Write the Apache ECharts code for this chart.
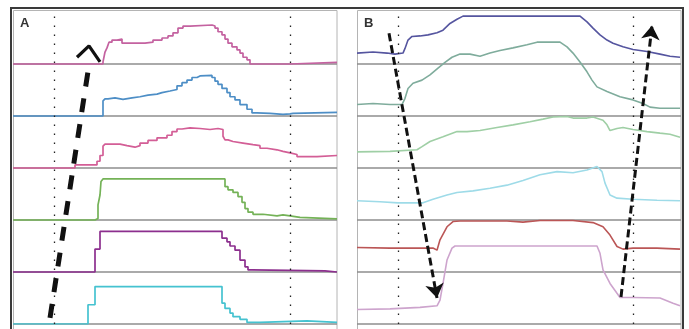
<!DOCTYPE html>
<html>
<head>
<meta charset="utf-8">
<script src="https://cdn.jsdelivr.net/npm/echarts@6/dist/echarts.min.js"></script>
<style>
html,body{margin:0;padding:0;background:#fff;}
#chart{width:689px;height:329px;}
</style>
</head>
<body>
<div id="chart"></div>
<script>
// ---------- data ----------
// Panel A: step traces, [time, level within own row (0..1)] ; level holds from that time onward
const rowA1 = [[0,0],[90,0.04],[92,0.23],[94,0.31],[96,0.42],[99,0.46],[104,0.48],[109,0.40],[132,0.42],[140,0.46],[149,0.50],[155,0.54],[160,0.60],[165,0.69],[170,0.73],[177,0.75],[199,0.73],[202,0.69],[205,0.62],[209,0.56],[212,0.48],[215,0.40],[219,0.33],[224,0.27],[227,0.21],[230,0.13],[234,0.08],[237,0],[277,0.03],[324,0.03]];
const rowA2 = [[0,0],[90,0.29],[92,0.33],[95,0.35],[102,0.32],[110,0.35],[119,0.37],[127,0.40],[135,0.42],[144,0.45],[149,0.48],[157,0.51],[164,0.58],[169,0.64],[174,0.69],[179,0.74],[184,0.77],[187,0.78],[199,0.74],[202,0.67],[205,0.61],[209,0.53],[214,0.45],[217,0.37],[222,0.31],[227,0.22],[234,0.13],[239,0.06],[244,0.05],[257,0.03],[270,0.04],[277,0.05],[280,0.07],[324,0.07]];
const rowA3 = [[0,0],[62,0.06],[84,0.13],[87,0.24],[90,0.42],[92,0.46],[107,0.43],[114,0.40],[122,0.43],[127,0.48],[135,0.53],[144,0.58],[154,0.63],[159,0.70],[164,0.75],[169,0.77],[177,0.76],[187,0.74],[197,0.76],[205,0.74],[210,0.61],[212,0.54],[215,0.51],[220,0.48],[230,0.45],[240,0.43],[247,0.38],[254,0.35],[264,0.32],[270,0.29],[277,0.26],[284,0.22],[304,0.24],[324,0.24]];
const rowA4 = [[0,0],[82,0.03],[85,0.29],[87,0.48],[88,0.74],[90,0.79],[212,0.64],[215,0.58],[220,0.53],[225,0.45],[229,0.34],[232,0.22],[235,0.15],[240,0.11],[250,0.08],[264,0.10],[270,0.08],[277,0.05],[287,0.02],[324,0.02]];
const rowA5 = [[0,0],[82,0.44],[87,0.78],[209,0.65],[214,0.58],[217,0.50],[222,0.42],[227,0.23],[232,0.10],[235,0.04],[239,0.02],[312,0],[324,0]];
const rowA6 = [[0,0],[75,0.37],[82,0.72],[209,0.40],[212,0.30],[217,0.21],[220,0.14],[227,0.09],[234,0.03],[247,0.06],[294,0.03],[324,0.03]];

// Panel B: traces, [time, value on the shared row scale 0..6]
const rowB1 = [[0,5.21],[16,5.23],[30,5.21],[38,5.19],[46,5.21],[48,5.30],[51,5.46],[55,5.53],[63,5.54],[71,5.56],[80,5.60],[86,5.65],[93,5.78],[100,5.86],[106,5.92],[223,5.92],[230,5.81],[236,5.69],[243,5.56],[250,5.46],[256,5.40],[266,5.33],[276,5.28],[290,5.24],[303,5.19],[313,5.15],[323,5.13]];
const rowB2 = [[0,4.22],[16,4.24],[33,4.22],[45,4.22],[48,4.34],[51,4.53],[56,4.63],[65,4.69],[73,4.79],[81,4.92],[88,5.03],[95,5.13],[103,5.19],[113,5.19],[123,5.15],[133,5.21],[143,5.26],[156,5.31],[170,5.37],[180,5.42],[203,5.42],[210,5.33],[216,5.21],[223,5.04],[230,4.85],[235,4.69],[240,4.56],[250,4.47],[263,4.37],[276,4.31],[286,4.24],[293,4.17],[303,4.15],[323,4.15]];
const rowB3 = [[0,3.31],[33,3.32],[60,3.35],[65,3.41],[73,3.51],[86,3.60],[100,3.70],[110,3.70],[123,3.72],[140,3.78],[156,3.83],[173,3.89],[186,3.94],[196,3.98],[210,3.99],[216,3.96],[230,3.96],[236,3.98],[246,3.92],[250,3.83],[253,3.72],[260,3.76],[266,3.78],[276,3.74],[290,3.70],[303,3.67],[313,3.65],[323,3.59]];
const rowB4 = [[0,2.37],[23,2.35],[41,2.33],[66,2.33],[76,2.40],[90,2.48],[100,2.53],[116,2.56],[133,2.61],[150,2.67],[166,2.76],[183,2.87],[200,2.93],[216,2.91],[230,2.96],[240,3.03],[245,2.93],[248,2.71],[253,2.48],[260,2.42],[276,2.40],[300,2.38],[323,2.37]];
const rowB5 = [[0,1.47],[33,1.46],[76,1.46],[80,1.42],[83,1.62],[90,1.87],[96,1.97],[103,1.98],[150,1.98],[166,1.96],[183,1.99],[216,1.99],[236,1.95],[246,1.87],[253,1.71],[260,1.49],[266,1.44],[276,1.46],[300,1.46],[323,1.44]];
const rowB6 = [[0,0.28],[33,0.29],[63,0.32],[80,0.35],[83,0.46],[86,0.78],[90,1.23],[95,1.46],[98,1.50],[240,1.50],[243,1.36],[246,1.04],[253,0.78],[260,0.59],[263,0.51],[276,0.51],[303,0.50],[316,0.40],[323,0.35]];

// reference times (dotted verticals)
const markTimesA = [41, 277];
const markTimesB = [41, 276];

// annotation arrows (data coordinates)
const arrowA = [[37,0.12],[76,4.98]];
const chevronA = [[64,5.13],[76,5.35],[87,5.04]];
const arrowB1 = [[32,5.59],[80,0.5]];
const arrowB2 = [[264,0.52],[295,5.74]];

const panelLabels = ['A', 'B'];

// ---------- styles ----------
const colorsA = ['#c462a0', '#4d8ec6', '#d35e96', '#74b257', '#8c2f8e', '#45c2d0'];
const colorsB = ['#55559f', '#7fac9c', '#9fcfa5', '#9edbe8', '#bb5656', '#cda4cd'];

const rowsA = [rowA1, rowA2, rowA3, rowA4, rowA5, rowA6];
const rowsB = [rowB1, rowB2, rowB3, rowB4, rowB5, rowB6];

const chart = echarts.init(document.getElementById('chart'), null, {renderer: 'canvas'});

function mkX(i) {
  return {type: 'value', gridIndex: i, min: 0, max: 324,
    axisLine: {show: false}, axisTick: {show: false}, axisLabel: {show: false}, splitLine: {show: false}};
}
function mkY(i) {
  return {type: 'value', gridIndex: i, min: 0, max: 6, interval: 1,
    axisLine: {show: false}, axisTick: {show: false}, axisLabel: {show: false},
    splitLine: {show: true, showMaxLine: false, lineStyle: {color: '#8e8e8e', width: 1.5}}};
}
const dotStyle = {color: '#222', width: 1.3, type: [1.5, 7.5]};
function markLineFor(times) {
  return {silent: true, symbol: 'none', label: {show: false}, lineStyle: dotStyle,
    data: times.map(t => ({xAxis: t}))};
}

const series = [];
rowsA.forEach((r, i) => {
  const base = 5 - i;
  const s = {type: 'line', xAxisIndex: 0, yAxisIndex: 0, step: 'end', symbol: 'none',
    data: r.map(p => [p[0], base + p[1]]),
    lineStyle: {color: colorsA[i], width: 1.7}, z: 3};
  if (i === 0) s.markLine = markLineFor(markTimesA);
  series.push(s);
});
rowsB.forEach((r, i) => {
  const s = {type: 'line', xAxisIndex: 1, yAxisIndex: 1, symbol: 'none',
    data: r, lineStyle: {color: colorsB[i], width: 1.6}, z: 3};
  if (i === 0) s.markLine = markLineFor(markTimesB);
  series.push(s);
});
// arrows
series.push({type: 'lines', coordinateSystem: 'cartesian2d', xAxisIndex: 0, yAxisIndex: 0, z: 5,
  symbol: 'none', lineStyle: {color: '#111', width: 5, type: [14, 12], opacity: 1},
  data: [{coords: arrowA}]});
series.push({type: 'line', xAxisIndex: 0, yAxisIndex: 0, symbol: 'none', z: 5,
  lineStyle: {color: '#111', width: 3.2}, data: chevronA});
series.push({type: 'lines', coordinateSystem: 'cartesian2d', xAxisIndex: 1, yAxisIndex: 1, z: 5,
  symbol: ['none', 'arrow'], symbolSize: [10, 14],
  lineStyle: {color: '#111', width: 3, type: [8, 4], opacity: 1},
  data: [{coords: arrowB1}, {coords: arrowB2}]});

const option = {
  animation: false,
  backgroundColor: '#ffffff',
  title: [
    {text: panelLabels[0], left: 20, top: 17, padding: 0,
      textStyle: {fontSize: 13, fontWeight: 'bold', color: '#333', fontFamily: 'Liberation Sans'}},
    {text: panelLabels[1], left: 364, top: 17, padding: 0,
      textStyle: {fontSize: 13, fontWeight: 'bold', color: '#333', fontFamily: 'Liberation Sans'}}
  ],
  grid: [
    {left: 13, top: 12, width: 324, height: 312},
    {left: 357, top: 12, width: 324, height: 312}
  ],
  xAxis: [mkX(0), mkX(1)],
  yAxis: [mkY(0), mkY(1)],
  graphic: [
    {type: 'rect', z: 0, shape: {x: 11, y: 8, width: 672, height: 340},
      style: {fill: 'none', stroke: '#3a3a3a', lineWidth: 2}},
    {type: 'rect', z: 0, shape: {x: 13.5, y: 10.5, width: 323.5, height: 340},
      style: {fill: 'none', stroke: '#b4b4b4', lineWidth: 1}},
    {type: 'rect', z: 0, shape: {x: 357.5, y: 10.5, width: 323.5, height: 340},
      style: {fill: 'none', stroke: '#b4b4b4', lineWidth: 1}}
  ],
  series: series
};
chart.setOption(option);
</script>
</body>
</html>
